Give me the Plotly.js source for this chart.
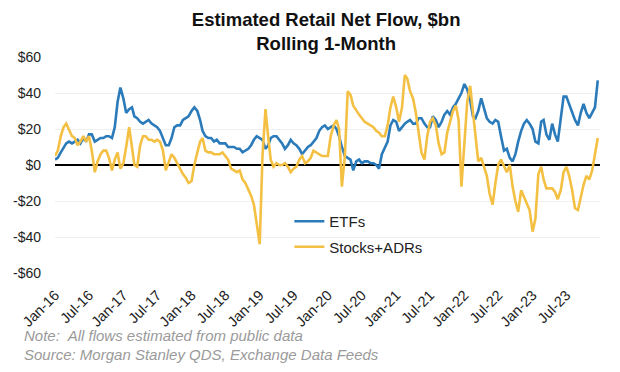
<!DOCTYPE html>
<html>
<head>
<meta charset="utf-8">
<script src="https://cdn.plot.ly/plotly-3.0.1.min.js"></script>
<style>html,body{margin:0;padding:0;background:#fff;}#chart{width:620px;height:372px;}</style>
</head>
<body>
<div id="chart"></div>
<script>
// Semi-monthly sampling: 1st and 16th of each month, Jan-2016 .. Dec-2023
const years = [2016, 2017, 2018, 2019, 2020, 2021, 2022, 2023];
const months = ['01','02','03','04','05','06','07','08','09','10','11','12'];
const days = ['01','16'];

// ETFs, $bn (24 values per year)
const etf2016 = [3,4,7,10,12,13,12,13,14,12,15,13,17,17,13,14,15,15,16,16,15,21,35,43];
const etf2017 = [37,29,31,32,27,26,24,23,24,25,23,22,21,19,15,11,11,15,21,22,22,25,26,27];
const etf2018 = [30,32,30,25,19,16,15,15,13,14,12,12,12,10,10,10,9,9,7,8,9,11,14,16];
const etf2019 = [15,14,9,11,15,16,16,14,12,9,11,14,12,11,9,6,8,10,11,13,15,19,21,22];
const etf2020 = [20,21,22,20,16,10,5,4,3,-3,2,3,1,2,2,1,1,0,-2,6,10,13,22,25];
const etf2021 = [24,19,21,23,24,25,23,23,26,26,23,21,21,27,25,21,24,28,30,28,32,34,37,40];
const etf2022 = [45,42,36,27,26,30,37,32,26,24,23,25,24,16,8,9,4,2,6,13,19,23,25,23];
const etf2023 = [20,13,12,24,25,17,14,23,17,13,26,38,38,34,30,25,22,29,34,29,26,29,32,47];

// Stocks+ADRs, $bn
const stk2016 = [5,8,16,21,23,20,16,15,11,13,16,13,16,8,-4,2,6,8,8,4,-3,3,7,-2];
const stk2017 = [1,10,21,10,0,-1,11,16,16,14,14,13,14,13,8,-3,2,6,4,1,-2,-5,-7,-10];
const stk2018 = [-9,0,7,13,15,8,7,7,6,6,6,7,5,3,-2,-3,-4,-3,-8,-10,-14,-17,-22,-32];
const stk2019 = [-44,5,31,15,3,-1,1,0,0,1,-1,-4,-2,-1,3,5,1,2,4,8,7,6,5,5];
const stk2020 = [5,16,22,25,20,-12,5,41,39,33,30,28,26,24,23,22,21,19,18,16,16,22,32,38];
const stk2021 = [32,24,32,50,48,41,37,29,18,7,3,16,24,26,22,12,6,7,18,24,30,33,25,-12];
const stk2022 = [12,35,44,29,15,2,4,-1,-6,-16,-22,-10,0,3,-1,-4,0,-12,-20,-26,-14,-18,-21,-25];
const stk2023 = [-37,-30,-5,-1,-8,-13,-13,-13,-15,-19,-14,-4,-1,-6,-14,-24,-25,-17,-11,-6,-8,-3,6,15];

const tickDates = ['2016-01-01','2016-07-01','2017-01-01','2017-07-01','2018-01-01','2018-07-01',
  '2019-01-01','2019-07-01','2020-01-01','2020-07-01','2021-01-01','2021-07-01',
  '2022-01-01','2022-07-01','2023-01-01','2023-07-01'];
const tickLabels = ['Jan-16','Jul-16','Jan-17','Jul-17','Jan-18','Jul-18','Jan-19','Jul-19',
  'Jan-20','Jul-20','Jan-21','Jul-21','Jan-22','Jul-22','Jan-23','Jul-23'];
const yTickVals = [-60,-40,-20,0,20,40,60];
const yTickLabels = ['-$60','-$40','-$20','$0','$20','$40','$60'];

const dates = [];
years.forEach(y => months.forEach(m => days.forEach(d => dates.push(y + '-' + m + '-' + d))));
const etf = [].concat(etf2016, etf2017, etf2018, etf2019, etf2020, etf2021, etf2022, etf2023);
const stocks = [].concat(stk2016, stk2017, stk2018, stk2019, stk2020, stk2021, stk2022, stk2023);

const FONT = 'Liberation Sans, Arial, sans-serif';

const traces = [
  {x: dates, y: etf, type: 'scatter', mode: 'lines', name: 'ETFs', legendgroup: 'a',
   line: {color: '#2b7bba', width: 2.6}},
  {x: dates, y: stocks, type: 'scatter', mode: 'lines', name: 'Stocks+ADRs', legendgroup: 'b',
   line: {color: '#f4c044', width: 2.6}}
];

const layout = {
  width: 620, height: 372,
  margin: {l: 55, r: 20, t: 57, b: 99},
  paper_bgcolor: '#ffffff', plot_bgcolor: '#ffffff',
  font: {family: FONT, color: '#222222'},
  title: {text: '<b>Estimated Retail Net Flow, $bn</b><br><b>Rolling 1-Month</b>',
    font: {family: FONT, size: 18.5, color: '#111111'},
    x: 0.526, xanchor: 'center', xref: 'container', y: 0.93, yanchor: 'top', yref: 'container'},
  showlegend: true,
  legend: {x: 0.43, xanchor: 'left', y: 0.315, yanchor: 'top', bgcolor: 'rgba(0,0,0,0)',
    font: {family: FONT, size: 15, color: '#222222'}, traceorder: 'grouped', tracegroupgap: 3},
  xaxis: {type: 'date', range: ['2016-01-01', '2023-12-28'],
    tickvals: tickDates, ticktext: tickLabels, tickangle: -45,
    tickfont: {family: FONT, size: 14.5, color: '#222222'},
    showgrid: false, showline: false, zeroline: false, ticks: '', ticklabelstandoff: 10},
  xaxis2: {type: 'date', overlaying: 'x', matches: 'x', anchor: 'free', position: 0.5,
    tickvals: tickDates, showticklabels: false, ticks: 'outside', ticklen: 5, tickcolor: '#000',
    tickwidth: 1.3, showline: true, linecolor: '#000', linewidth: 1.5, showgrid: false, zeroline: false},
  yaxis: {range: [-60, 60], tickvals: yTickVals, ticktext: yTickLabels,
    tickfont: {family: FONT, size: 14, color: '#222222'},
    showgrid: true, gridcolor: '#efefef', gridwidth: 1,
    zeroline: true, zerolinecolor: '#000', zerolinewidth: 1.5,
    showline: false, ticks: '', ticklabelstandoff: 13},
  annotations: [
    {text: 'Note:  All flows estimated from public data', xref: 'paper', yref: 'paper',
     x: -0.06, y: -0.29, xanchor: 'left', yanchor: 'middle', showarrow: false,
     font: {family: FONT, size: 15, color: '#9a9a9a', style: 'italic'}},
    {text: 'Source: Morgan Stanley QDS, Exchange Data Feeds', xref: 'paper', yref: 'paper',
     x: -0.06, y: -0.375, xanchor: 'left', yanchor: 'middle', showarrow: false,
     font: {family: FONT, size: 15, color: '#9a9a9a', style: 'italic'}}
  ]
};

Plotly.newPlot('chart', traces, layout, {staticPlot: true, displayModeBar: false});
</script>
</body>
</html>
